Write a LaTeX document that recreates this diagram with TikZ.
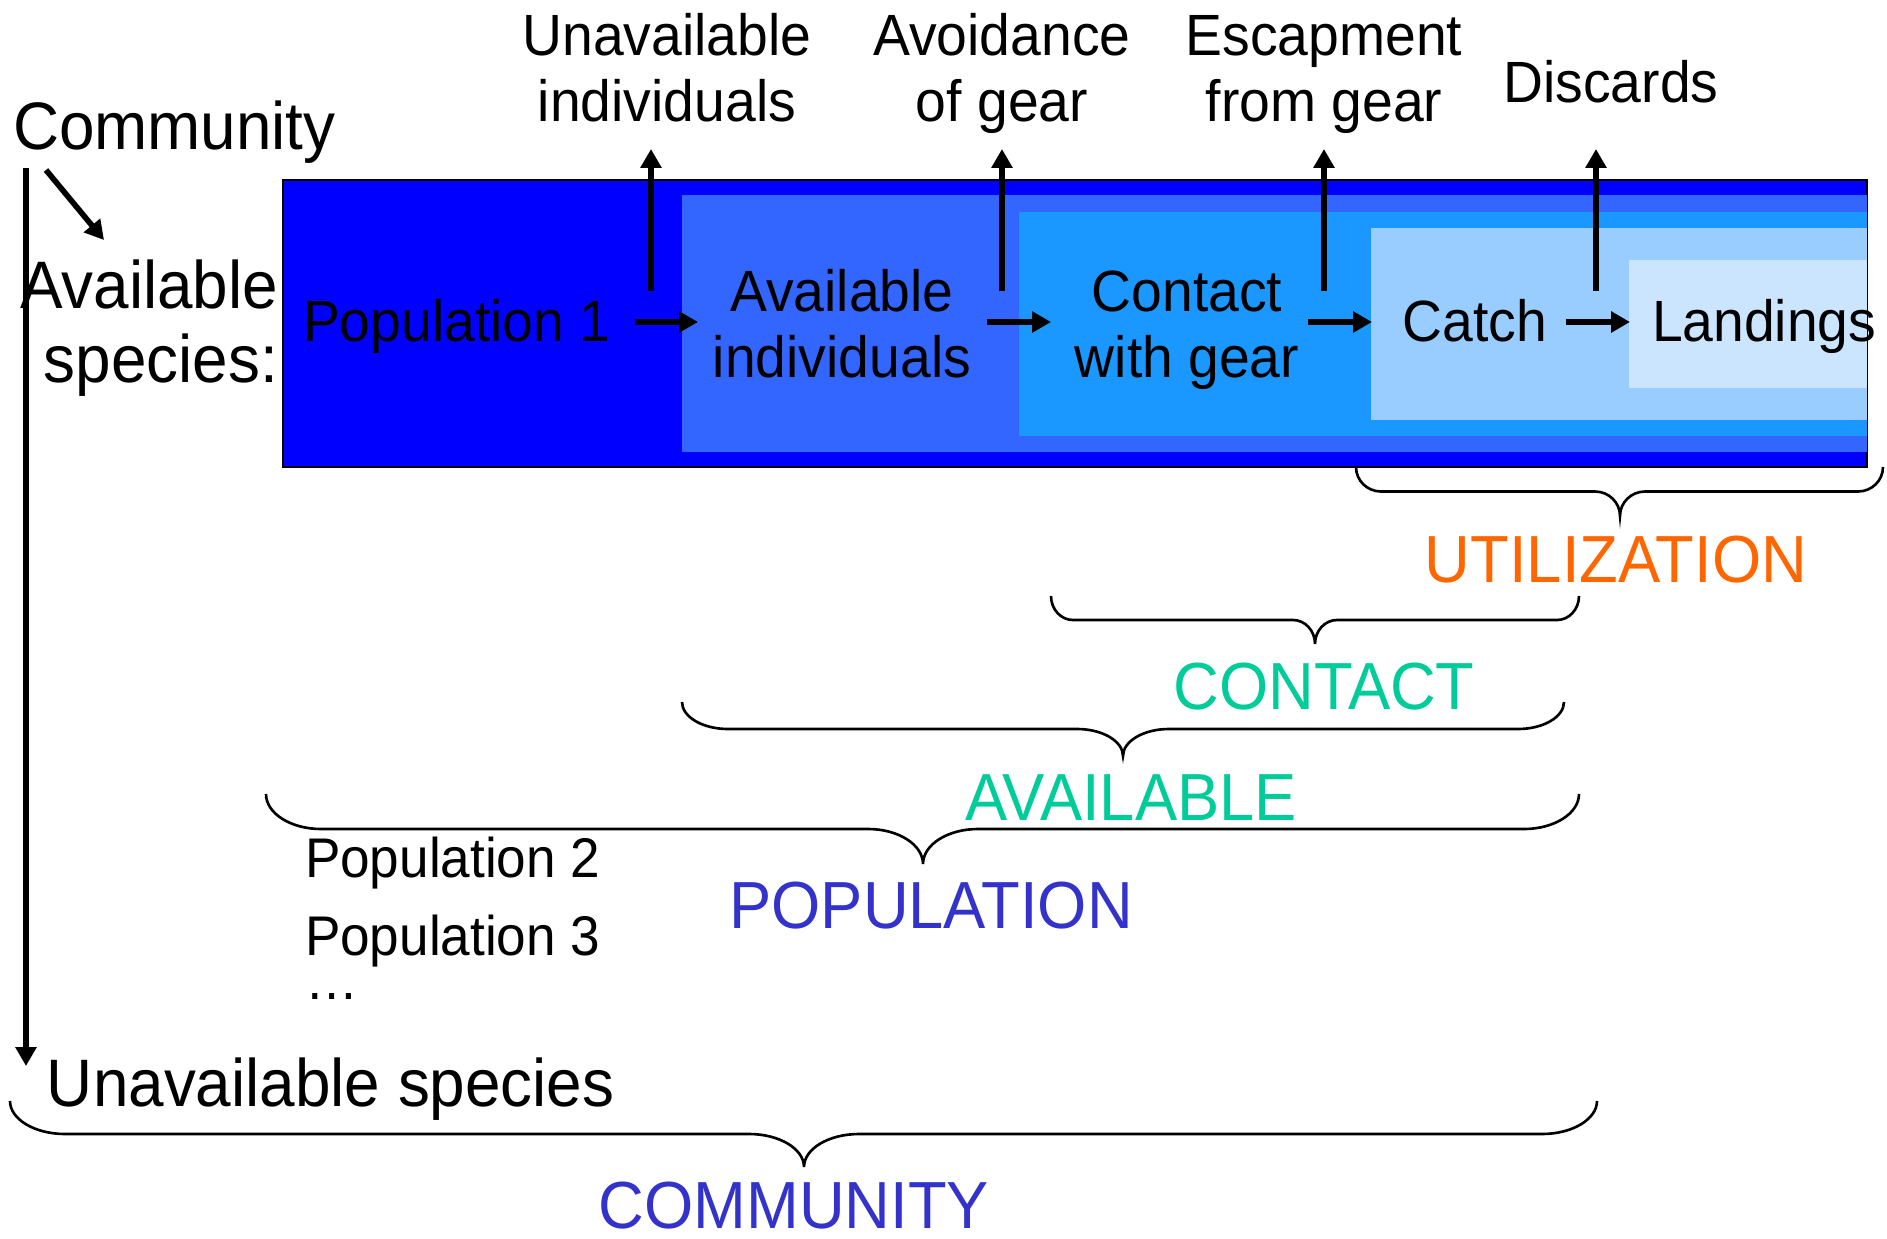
\documentclass[tikz,border=0pt]{standalone}
\usepackage{fontspec}
\setmainfont{Liberation Sans}[FakeStretch=0.95]
\usetikzlibrary{arrows.meta}
\definecolor{layA}{HTML}{0000FF}
\definecolor{layB}{HTML}{3366FF}
\definecolor{layC}{HTML}{1A98FF}
\definecolor{layD}{HTML}{99CCFF}
\definecolor{layE}{HTML}{CCE5FF}
\definecolor{orng}{HTML}{FF6600}
\definecolor{teal}{HTML}{00CC99}
\definecolor{indg}{HTML}{3333CC}
\newcommand{\twol}[2]{\begin{tabular}[t]{@{}c@{}}#1\\#2\end{tabular}}
\newcommand{\twor}[2]{\begin{tabular}[t]{@{}r@{}}#1\\#2\end{tabular}}
% brace: xl, xr, ytop, xtip, height, radius
\newcommand{\drawbrace}[6]{%
  \draw[brc] (#1,#3) .. controls (#1,{#3+0.276*#5}) and ({#1+0.448*#6},{#3+#5/2}) .. ({#1+#6},{#3+#5/2})
    -- ({#4-#6},{#3+#5/2})
    .. controls ({#4-0.448*#6},{#3+#5/2}) and (#4,{#3+0.724*#5}) .. (#4,{#3+#5})
    .. controls (#4,{#3+0.724*#5}) and ({#4+0.448*#6},{#3+#5/2}) .. ({#4+#6},{#3+#5/2})
    -- ({#2-#6},{#3+#5/2})
    .. controls ({#2-0.448*#6},{#3+#5/2}) and (#2,{#3+0.276*#5}) .. (#2,#3);}
\tikzset{
  txt/.style={inner sep=0pt, outer sep=0pt},
  big/.style={txt, font=\fontsize{19.1}{21.3}\selectfont},
  mid/.style={txt, font=\fontsize{16.55}{19}\selectfont},
  sml/.style={txt, font=\fontsize{15.9}{19}\selectfont},
  lab/.style={txt, font=\fontsize{18.95}{22}\selectfont},
  arr/.style={line width=1.6pt, -{Triangle[length=5.4pt,width=5.8pt]}},
  brc/.style={line width=0.75pt},
}
\begin{document}
\begin{tikzpicture}[x=0.01cm, y=-0.01cm]
\useasboundingbox (0,0) rectangle (1887,1239);
% nested layers
\draw[fill=layA, line width=0.6pt] (283,180) rectangle (1867,467);
\fill[layB] (682,195) rectangle (1867,452);
\fill[layC] (1019,212) rectangle (1867,436);
\fill[layD] (1371,228) rectangle (1867,420);
\fill[layE] (1629,260) rectangle (1867,388);

% texts
\node[big, anchor=base west] (comm) at (13,149) {Community};
\node[big, anchor=base east] (avsp) at (278,308) {\twor{Available}{species:}};
\node[mid, anchor=base west] (pop1) at (303,341) {Population 1};
\node[mid, anchor=base] (avin) at (842,311) {\twol{Available}{individuals}};
\node[mid, anchor=base] (cont) at (1187,311) {\twol{Contact}{with gear}};
\node[mid, anchor=base] (catch) at (1475,341) {Catch};
\node[mid, anchor=base west] (land) at (1652,341) {Landings};

\node[mid, anchor=base] (unin) at (667,55) {\twol{Unavailable}{individuals}};
\node[mid, anchor=base] (avoi) at (1002,55) {\twol{Avoidance}{of gear}};
\node[mid, anchor=base] (esca) at (1324,55) {\twol{Escapment}{from gear}};
\node[mid, anchor=base] (disc) at (1611,102) {Discards};

\node[sml, anchor=base west] (pop2) at (305,877) {Population 2};
\node[sml, anchor=base west] (pop3) at (305,955) {Population 3};
\node[sml, anchor=base west] (dots) at (305,999) {…};
\node[big, anchor=base west] (unsp) at (47,1106) {Unavailable species};

\node[lab, text=orng, anchor=base] (util) at (1616,582) {UTILIZATION};
\node[lab, text=teal, anchor=base] (cnt) at (1324,709) {CONTACT};
\node[lab, text=teal, anchor=base] (avl) at (1131,820) {AVAILABLE};
\node[lab, text=indg, anchor=base] (popl) at (931,928) {POPULATION};
\node[lab, text=indg, anchor=base] (cmty) at (794,1228) {COMMUNITY};

% arrow end points
\coordinate (h1s) at (635,322); \coordinate (h1e) at (698,322);
\coordinate (h2s) at (987,322); \coordinate (h2e) at (1051,322);
\coordinate (h3s) at (1308,322); \coordinate (h3e) at (1372,322);
\coordinate (h4s) at (1566,322); \coordinate (h4e) at (1630,322);
\coordinate (v1s) at (651,291); \coordinate (v1e) at (651,149);
\coordinate (v2s) at (1002,291); \coordinate (v2e) at (1002,149);
\coordinate (v3s) at (1324,291); \coordinate (v3e) at (1324,149);
\coordinate (v4s) at (1596,291); \coordinate (v4e) at (1596,149);
\coordinate (ls) at (26,168); \coordinate (le) at (26,1066);
\coordinate (ds) at (46,170); \coordinate (de) at (104,240);

\draw[arr] (h1s) -- (h1e);
\draw[arr] (h2s) -- (h2e);
\draw[arr] (h3s) -- (h3e);
\draw[arr] (h4s) -- (h4e);
\draw[arr] (v1s) -- (v1e);
\draw[arr] (v2s) -- (v2e);
\draw[arr] (v3s) -- (v3e);
\draw[arr] (v4s) -- (v4e);
\draw[arr] (ls) -- (le);
\draw[arr] (ds) -- (de);

% braces
\drawbrace{1356}{1883}{467}{1620}{49}{25}
\drawbrace{1051}{1579}{596}{1315}{48}{22}
\drawbrace{682}{1564}{702}{1123}{54}{46}
\drawbrace{266}{1579}{794}{923}{70}{55}
\drawbrace{10}{1597}{1101}{804}{66}{55}
\end{tikzpicture}
\end{document}
